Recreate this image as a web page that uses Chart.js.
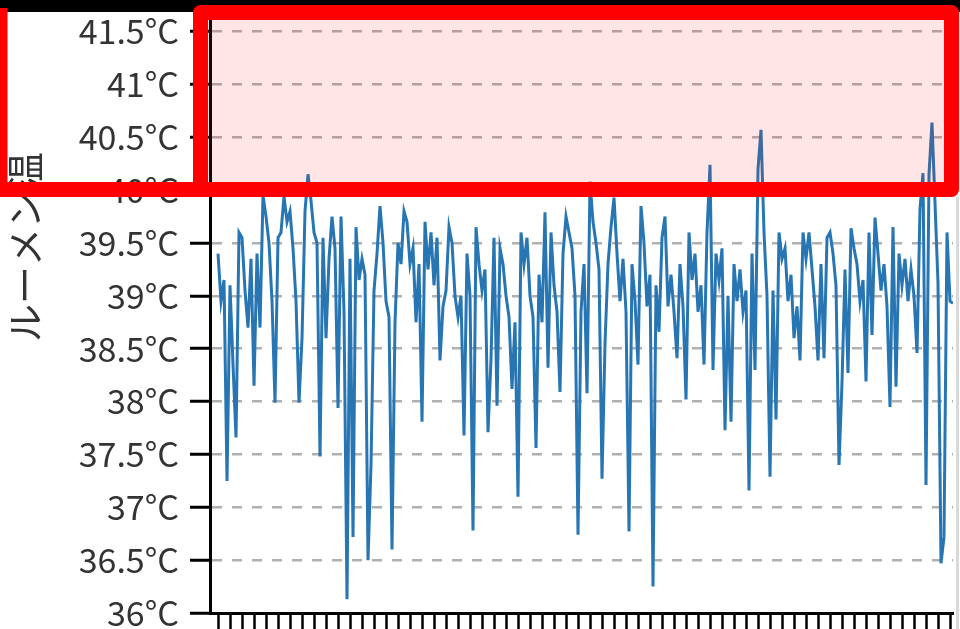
<!DOCTYPE html>
<html><head><meta charset="utf-8">
<script src="https://cdn.jsdelivr.net/npm/chart.js@4"></script>
<style>html,body{margin:0;padding:0;background:#fff;overflow:hidden}canvas{display:block}</style>
</head><body>
<canvas id="c" width="960" height="629"></canvas>
<script>
const yTitle = 'ルーメン温';
const yTickValues = [36, 36.5, 37, 37.5, 38, 38.5, 39, 39.5, 40, 40.5, 41, 41.5];
const yUnit = '°C';
const temps = [
39.4, 38.95, 39.15, 37.25, 39.1, 38.35, 37.66, 39.6, 39.55, 39.05,
38.7, 39.35, 38.15, 39.4, 38.7, 39.95, 39.75, 39.5, 38.95, 37.99,
39.55, 39.6, 39.94, 39.7, 39.8, 39.45, 38.95, 37.99, 38.6, 39.8,
40.15, 39.9, 39.6, 39.5, 37.48, 39.55, 38.6, 39.35, 39.75, 39.45,
37.94, 39.75, 38.85, 36.13, 39.35, 36.72, 39.65, 39.15, 39.35, 39.2,
36.5, 37.4, 39.05, 39.4, 39.85, 39.5, 38.95, 38.8, 36.6, 38.75,
39.5, 39.3, 39.8, 39.7, 39.3, 39.45, 38.75, 39.3, 37.81, 39.7,
39.25, 39.6, 39.1, 39.55, 38.39, 38.9, 39.05, 39.65, 39.5, 39.0,
38.8, 39.0, 37.68, 39.4, 39.0, 36.78, 39.65, 39.3, 39.05, 39.25,
37.71, 38.4, 39.55, 37.96, 39.45, 39.3, 39.0, 38.8, 38.12, 38.75,
37.1, 39.6, 39.3, 39.55, 39.0, 38.8, 37.56, 39.2, 38.75, 39.79,
38.32, 39.6, 39.1, 38.85, 38.09, 39.4, 39.75, 39.6, 39.45, 39.0,
36.74, 38.85, 39.3, 38.08, 40.08, 39.7, 39.5, 39.25, 37.27, 38.55,
39.3, 39.65, 39.93, 39.4, 38.95, 39.35, 38.85, 36.77, 39.3, 38.95,
38.35, 39.85, 39.5, 38.9, 39.2, 36.25, 39.1, 38.66, 39.55, 39.75,
38.9, 39.2, 38.85, 38.41, 39.3, 38.9, 38.02, 39.6, 39.15, 39.4,
38.85, 39.1, 38.35, 39.6, 40.24, 38.3, 39.4, 39.15, 39.45, 37.73,
39.0, 37.81, 39.3, 38.95, 39.25, 38.85, 39.05, 37.16, 39.4, 38.3,
40.2, 40.57, 39.6, 39.0, 37.29, 39.05, 37.83, 39.6, 39.35, 39.45,
38.95, 39.2, 38.6, 38.9, 38.39, 39.6, 39.35, 39.6, 39.25, 38.9,
38.39, 39.3, 38.41, 39.55, 39.6, 39.4, 39.1, 37.4, 38.18, 39.25,
38.27, 39.64, 39.45, 39.3, 38.95, 39.15, 38.19, 39.6, 38.63, 39.74,
39.4, 39.05, 39.3, 38.9, 37.95, 39.65, 38.14, 39.4, 39.1, 39.35,
38.95, 39.25, 39.0, 38.46, 39.82, 40.16, 37.21, 40.15, 40.64, 39.88,
39.12, 36.47, 36.72, 39.6, 38.95, 38.93
];
const xTickEvery = 4;

const FONT = '"Noto Sans CJK JP", "Noto Sans", sans-serif';

const overlay = {
  id: 'overlay',
  afterDraw(chart) {
    const ctx = chart.ctx;
    ctx.save();
    ctx.fillStyle = '#333';
    ctx.font = '38px ' + FONT;
    ctx.translate(25, 342);
    ctx.rotate(-Math.PI / 2);
    ctx.textAlign = 'left';
    ctx.textBaseline = 'middle';
    ctx.fillText(yTitle, 0, 0);
    ctx.restore();

    ctx.save();
    ctx.fillStyle = 'rgba(255,0,0,0.1)';
    ctx.fillRect(208, 19, 740, 165);
    ctx.fillStyle = '#000';
    ctx.fillRect(0, 0, 960, 12);
    ctx.strokeStyle = '#ff0000';
    ctx.lineWidth = 15;
    ctx.lineJoin = 'round';
    ctx.strokeRect(200.5, 12.5, 751, 177);
    ctx.beginPath();
    ctx.moveTo(0, 8);
    ctx.lineTo(0, 189.5);
    ctx.lineTo(201, 189.5);
    ctx.stroke();
    ctx.strokeStyle = '#d9d9d9';
    ctx.lineWidth = 3;
    ctx.beginPath();
    ctx.moveTo(957.5, 197);
    ctx.lineTo(957.5, 629);
    ctx.stroke();
    ctx.restore();
  }
};

new Chart(document.getElementById('c'), {
  type: 'line',
  data: {
    datasets: [{
      data: temps.map((v, i) => ({ x: i, y: v })),
      borderColor: '#2776b3',
      borderWidth: 3,
      pointRadius: 0,
      tension: 0,
      fill: false
    }]
  },
  options: {
    responsive: false,
    animation: false,
    events: [],
    layout: { padding: { left: 10, right: 7, top: 21, bottom: 0 } },
    plugins: { legend: { display: false }, tooltip: { enabled: false } },
    scales: {
      x: {
        type: 'linear',
        min: -2.67,
        max: temps.length - 1,
        afterBuildTicks(s) {
          const t = [];
          for (let i = 0; i < temps.length; i += xTickEvery) t.push({ value: i });
          s.ticks = t;
        },
        afterFit(s) { s.height = 16; },
        ticks: { display: false },
        grid: { display: true, drawOnChartArea: false, drawTicks: true, tickLength: 16, tickWidth: 2.5, tickColor: '#000', tickBorderDash: [] },
        border: { display: true, color: '#000', width: 3 }
      },
      y: {
        min: 36,
        max: 41.6,
        afterBuildTicks(s) { s.ticks = yTickValues.map(v => ({ value: v })); },
        afterFit(s) { s.width = 200; },
        ticks: {
          padding: 11,
          color: '#333',
          font: { family: FONT, size: 34, lineHeight: 0.25 },
          callback: v => v + yUnit
        },
        grid: { color: '#b0b0b0', lineWidth: 2.5, drawTicks: true, tickLength: 20, tickWidth: 3, tickColor: '#000', tickBorderDash: [] },
        border: { display: true, color: '#000', width: 3, dash: [10, 10] }
      }
    }
  },
  plugins: [overlay]
});
</script>
</body></html>
